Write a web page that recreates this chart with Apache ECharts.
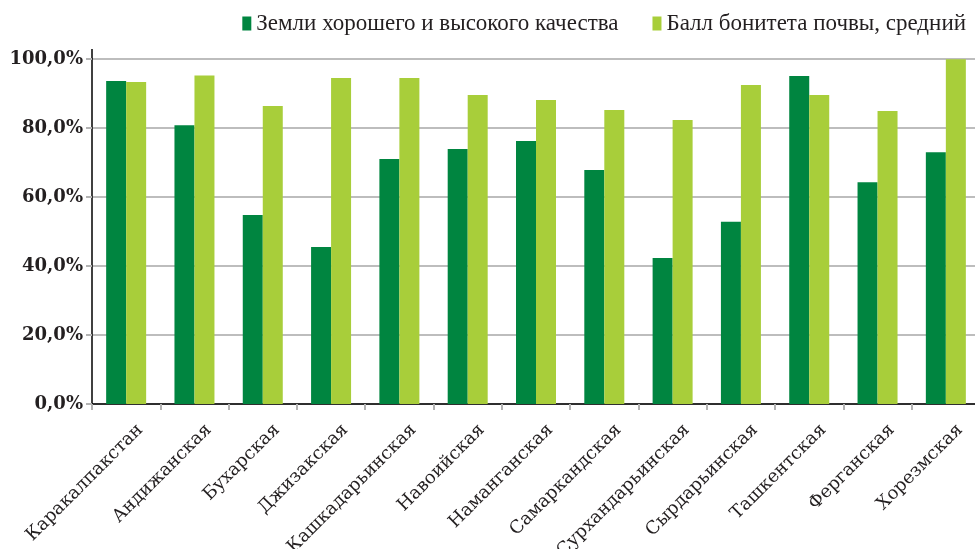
<!DOCTYPE html>
<html>
<head>
<meta charset="utf-8">
<script src="https://cdn.jsdelivr.net/npm/echarts@6/dist/echarts.min.js"></script>
<style>
html,body{margin:0;padding:0;background:#fff;}
#chart{width:975px;height:549px;}
</style>
</head>
<body>
<div id="chart"></div>
<script>
const categories = ['Каракалпакстан','Андижанская','Бухарская','Джизакская','Кашкадарьинская','Навоийская','Наманганская','Самаркандская','Сурхандарьинская','Сырдарьинская','Ташкентская','Ферганская','Хорезмская'];
const seriesNames = ['Земли хорошего и высокого качества','Балл бонитета почвы, средний'];
const goodLand = [93.6, 80.8, 54.8, 45.5, 71.0, 73.9, 76.2, 67.8, 42.3, 52.8, 95.1, 64.3, 73.0];
const bonitet = [93.3, 95.2, 86.4, 94.5, 94.5, 89.6, 88.1, 85.2, 82.3, 92.5, 89.6, 84.9, 99.9];
const yTicks = [0, 20, 40, 60, 80, 100];

const chart = echarts.init(document.getElementById('chart'), null, {renderer:'canvas'});
const option = {
  animation: false,
  backgroundColor: '#ffffff',
  legend: {
    top: 7,
    right: 4,
    itemWidth: 9,
    itemHeight: 14,
    itemGap: 34,
    icon: 'rect',
    textStyle: {fontFamily: 'Liberation Serif', fontSize: 23, color: '#231F20'},
    data: seriesNames
  },
  grid: {left: 92, right: -5, top: 59, bottom: 145, containLabel: false, outerBoundsMode: 'none'},
  xAxis: {
    type: 'category',
    data: categories,
    axisLine: {lineStyle: {color: '#000', width: 1.5}},
    axisTick: {show: true, length: 6, lineStyle: {color: '#B3B3B3', width: 2}},
    axisLabel: {
      interval: 0, rotate: 45, margin: 9,
      verticalAlign: 'top', padding: [11, 0, 0, 0],
      fontFamily: 'DejaVu Serif', fontSize: 18, color: '#231F20'
    }
  },
  yAxis: {
    type: 'value',
    min: yTicks[0], max: yTicks[yTicks.length-1], interval: 20,
    axisLine: {show: true, lineStyle: {color: '#000', width: 1.5}},
    axisTick: {show: true, length: 6, lineStyle: {color: '#B3B3B3', width: 2}},
    splitLine: {lineStyle: {color: '#BDBDBD', width: 2}},
    axisLabel: {
      margin: 9,
      formatter: v => v.toFixed(1).replace('.', ',') + '%',
      fontFamily: 'DejaVu Serif', fontWeight: 'bold', fontSize: 18, color: '#231F20'
    }
  },
  series: [
    {name: seriesNames[0], type: 'bar', data: goodLand, barWidth: 20, barGap: '0%', itemStyle: {color: '#008540'}},
    {name: seriesNames[1], type: 'bar', data: bonitet, barWidth: 20, barGap: '0%', itemStyle: {color: '#A8CE3A'}}
  ]
};
chart.setOption(option);
const axisTopY = chart.convertToPixel({yAxisIndex: 0}, 100);
chart.setOption({graphic: [{type: 'line', shape: {x1: 92, y1: axisTopY - 10, x2: 92, y2: axisTopY}, style: {stroke: '#000', lineWidth: 1.5}}]});
</script>
</body>
</html>
